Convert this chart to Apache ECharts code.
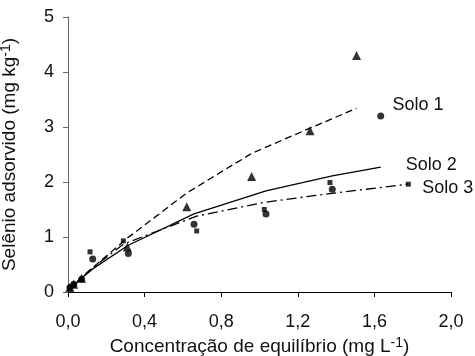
<!DOCTYPE html>
<html><head><meta charset="utf-8">
<script src="https://cdn.jsdelivr.net/npm/echarts@6/dist/echarts.min.js"></script>
<style>html,body{margin:0;padding:0;background:#fff}#c{width:475px;height:356px}</style>
</head><body><div id="c"></div>
<script>
// Observed points
const solo1X = [0.01, 0.03, 0.071, 0.31, 0.62, 0.959, 1.264, 1.507];
const solo1Y = [0.08, 0.14, 0.25, 0.82, 1.55, 2.10, 2.93, 4.30];
const solo2X = [0.01, 0.03, 0.071, 0.129, 0.315, 0.658, 1.034, 1.38, 1.633];
const solo2Y = [0.08, 0.14, 0.23, 0.60, 0.70, 1.23, 1.42, 1.87, 3.20];
const solo3X = [0.01, 0.03, 0.115, 0.289, 0.672, 1.025, 1.368, 1.777];
const solo3Y = [0.08, 0.13, 0.73, 0.93, 1.11, 1.50, 1.99, 1.96];
// Fitted curves
const fit1X = [0.01, 0.03, 0.071, 0.31, 0.62, 0.959, 1.264, 1.507];
const fit1Y = [0.05, 0.13, 0.27, 0.98, 1.80, 2.52, 2.98, 3.34];
const fit2X = [0.01, 0.03, 0.071, 0.129, 0.315, 0.658, 1.034, 1.38, 1.633];
const fit2Y = [0.05, 0.12, 0.25, 0.42, 0.85, 1.42, 1.84, 2.11, 2.27];
const fit3X = [0.01, 0.03, 0.115, 0.289, 0.672, 1.025, 1.368, 1.777];
const fit3Y = [0.05, 0.12, 0.40, 0.87, 1.38, 1.63, 1.79, 1.96];
const labels = ['Solo 1', 'Solo 2', 'Solo 3'];
const xTicks = [0, 0.4, 0.8, 1.2, 1.6, 2.0];
const yTicks = [0, 1, 2, 3, 4, 5];

const zip = (a, b) => a.map((v, i) => [v, b[i]]);
const FONT = 'Liberation Sans, Arial, sans-serif';
const TXT = '#111';

const chart = echarts.init(document.getElementById('c'));
function fitLine(xs, ys, name, type, off) {
  return {
    type: 'line', data: zip(xs, ys), symbol: 'none', silent: true,
    lineStyle: { color: '#000', width: 1.3, type: type },
    endLabel: { show: true, formatter: name, color: TXT, fontFamily: FONT, fontSize: 18, offset: off },
    z: 2
  };
}
function pts(xs, ys, sym, size) {
  return { type: 'scatter', data: zip(xs, ys), symbol: sym, symbolSize: size,
    itemStyle: { color: '#000' }, z: 3 };
}
const rich = {
  a: { fontSize: 19, fontFamily: FONT, color: TXT, lineHeight: 22 },
  s: { fontSize: 14, fontFamily: FONT, color: TXT, lineHeight: 13, verticalAlign: 'top' }
};
chart.setOption({
  animation: false,
  grid: { left: 68, right: 24, top: 17, bottom: 64, containLabel: false, outerBoundsMode: 'none' },
  xAxis: {
    type: 'value', min: 0, max: 2, interval: 0.4,
    name: '{a|Concentração de equilíbrio (mg L}{s|-1}{a|)}',
    nameLocation: 'middle', nameGap: 44,
    nameTextStyle: { rich: rich },
    axisLine: { lineStyle: { color: '#000', width: 1 } },
    axisTick: { inside: false, length: 5, lineStyle: { color: '#000' } },
    splitLine: { show: false },
    axisLabel: { margin: 21, fontSize: 18, fontFamily: FONT, color: TXT,
      formatter: v => v.toFixed(1).replace('.', ',') }
  },
  yAxis: {
    type: 'value', min: 0, max: 5, interval: 1,
    name: '{a|Selênio adsorvido (mg kg}{s|-1}{a|)}',
    nameLocation: 'middle', nameGap: 47, nameRotate: 90,
    nameTextStyle: { rich: rich },
    axisLine: { show: true, lineStyle: { color: '#666', width: 1 } },
    axisTick: { show: true, inside: false, length: 5, lineStyle: { color: '#666' } },
    splitLine: { show: false },
    axisLabel: { margin: 14, fontSize: 18, fontFamily: FONT, color: TXT }
  },
  series: [
    fitLine(fit1X, fit1Y, labels[0], [7, 4], [28, -3]),
    fitLine(fit2X, fit2Y, labels[1], 'solid', [17, -2]),
    fitLine(fit3X, fit3Y, labels[2], [10, 4, 2, 4], [6, 4]),
    pts(solo1X, solo1Y, 'triangle', 9),
    pts(solo2X, solo2Y, 'circle', 7),
    pts(solo3X, solo3Y, 'rect', 5)
  ]
});
</script></body></html>
